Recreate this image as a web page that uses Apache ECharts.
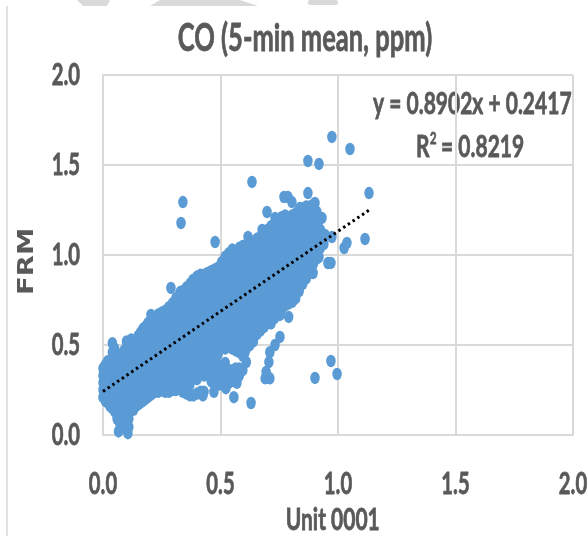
<!DOCTYPE html>
<html><head><meta charset="utf-8">
<style>html,body{margin:0;padding:0;background:#fff}#c{width:588px;height:536px}</style>
<script src="https://cdn.jsdelivr.net/npm/echarts@6/dist/echarts.min.js"></script>
</head><body><div id="c"></div>
<script>
const titleText = 'CO (5-min mean, ppm)';
const xName = 'Unit 0001';
const yName = 'FRM';
const axisMin = 0, axisMax = 2, axisStep = 0.5;
const eqLine1 = 'y = 0.8902x + 0.2417';
// trendline end points
const trendPoints = [[0, 0.2417], [1.135, 1.252]];
// isolated points
const outliers = [[0.634,1.406],[0.34,1.294],[0.332,1.178],[0.477,1.072],[0.698,1.239],[0.77,1.322],[0.787,1.322],[0.804,1.294],[0.617,1.1],[0.647,1.078],[0.677,1.139],[0.732,1.206],[0.974,1.656],[1.051,1.589],[0.872,1.522],[0.919,1.506],[0.872,1.344],[1.132,1.344],[1.115,1.089],[1.038,1.067],[1.026,1.039],[0.974,1.1],[0.932,1.206],[0.902,1.289],[0.919,0.989],[0.97,0.956],[0.97,0.411],[0.996,0.339],[0.902,0.317],[0.957,0.955],[0.894,0.9],[0.204,0.667],[0.289,0.817],[0.328,0.794],[0.383,0.861],[0.63,0.178],[0.557,0.21],[0.69,0.315],[0.71,0.315],[0.694,0.35],[0.706,0.405],[0.71,0.46],[0.732,0.5],[0.753,0.545],[0.715,0.62],[0.753,0.667],[0.79,0.656],[0.81,0.75],[0.804,0.833],[0.838,1.261],[0.945,1.111],[0.61,0.405],[0.604,0.46],[0.57,0.29],[0.523,0.26],[0.472,0.24],[0.425,0.22],[0.464,0.295],[0.066,0.02],[0.106,0.01],[0.11,0.044]];
// dense cloud, one row per x value: [x, y, y, ...]
const cloudRows = [
[0.00,.21,.25,.29,.33,.37],
[0.01,.19,.23,.27,.31,.35,.39],
[0.02,.18,.23,.28,.33,.38,.41],
[0.03,.16,.20,.25,.30,.35,.40],
[0.04,.15,.20,.26,.31,.36,.41,.46,.51],
[0.05,.13,.18,.23,.28,.33,.38,.43,.48],
[0.06,.09,.14,.20,.25,.30,.35,.40,.44],
[0.07,.07,.12,.17,.23,.28,.33,.38,.43],
[0.08,.05,.10,.15,.21,.26,.31,.36,.41,.45],
[0.09,.04,.08,.13,.18,.24,.29,.34,.39,.44,.47],
[0.10,.06,.12,.17,.22,.27,.33,.38,.43,.47,.52],
[0.11,.09,.15,.20,.25,.30,.35,.41,.46,.50],
[0.12,.14,.19,.24,.29,.34,.39,.44,.49,.53],
[0.13,.14,.18,.22,.27,.32,.37,.42,.47,.51],
[0.14,.16,.21,.27,.32,.37,.42,.47,.52],
[0.15,.17,.24,.30,.35,.40,.45,.50,.55],
[0.16,.18,.23,.28,.33,.39,.44,.49,.54,.57],
[0.17,.19,.26,.31,.36,.41,.46,.52,.57,.59],
[0.18,.20,.25,.31,.36,.41,.46,.51,.56,.60],
[0.19,.21,.28,.33,.39,.44,.49,.54,.59,.62],
[0.20,.22,.27,.32,.38,.43,.48,.53,.58,.63],
[0.21,.23,.30,.35,.41,.46,.51,.56,.61,.64],
[0.22,.24,.29,.34,.39,.45,.50,.55,.60,.65],
[0.235,.24,.27,.32,.37,.43,.48,.53,.58,.63,.67],
[0.25,.25,.30,.35,.41,.46,.51,.56,.62,.68],
[0.265,.24,.28,.33,.38,.43,.49,.54,.59,.64,.69],
[0.28,.24,.29,.34,.40,.45,.50,.55,.61,.66,.71],
[0.295,.25,.27,.32,.37,.43,.48,.53,.58,.64,.69,.73],
[0.31,.25,.30,.36,.41,.46,.51,.57,.62,.67,.72,.76],
[0.325,.26,.33,.38,.43,.49,.54,.59,.64,.69,.74,.78],
[0.34,.24,.29,.34,.40,.45,.50,.56,.61,.66,.71,.76,.80],
[0.355,.23,.32,.37,.42,.47,.53,.58,.63,.68,.73,.78,.82],
[0.37,.22,.28,.33,.38,.44,.49,.54,.59,.65,.70,.75,.80,.84],
[0.385,.22,.35,.40,.46,.51,.56,.61,.67,.72,.77,.82,.86],
[0.40,.23,.31,.37,.42,.47,.53,.58,.63,.68,.74,.79,.84,.88],
[0.415,.24,.34,.39,.44,.50,.55,.60,.66,.71,.76,.81,.86,.89],
[0.43,.24,.33,.38,.43,.49,.54,.59,.64,.70,.75,.80,.85,.89],
[0.445,.34,.40,.45,.50,.56,.61,.66,.71,.77,.82,.87,.90],
[0.46,.30,.36,.41,.46,.52,.57,.62,.67,.73,.78,.83,.88,.91],
[0.475,.28,.33,.38,.43,.48,.53,.59,.64,.69,.74,.80,.85,.92],
[0.49,.28,.34,.39,.45,.50,.55,.60,.66,.71,.76,.81,.87,.93],
[0.505,.28,.33,.38,.51,.57,.62,.67,.72,.78,.83,.88,.93,.96],
[0.52,.28,.35,.40,.48,.53,.58,.63,.69,.74,.79,.84,.90,.95,.99],
[0.535,.29,.36,.50,.56,.61,.66,.71,.77,.82,.87,.92,.97,1.01],
[0.55,.30,.36,.48,.53,.58,.63,.69,.74,.79,.84,.90,.95,1.00,1.03],
[0.565,.31,.37,.47,.55,.60,.66,.71,.76,.81,.87,.92,.97,1.02],
[0.58,.33,.37,.46,.52,.57,.62,.68,.73,.78,.83,.89,.94,.99,1.04],
[0.595,.36,.44,.50,.55,.60,.66,.71,.76,.81,.87,.92,.97,1.02,1.05],
[0.61,.48,.53,.58,.64,.69,.74,.79,.85,.90,.95,1.00,1.05],
[0.625,.50,.56,.61,.66,.71,.77,.82,.87,.92,.98,1.03,1.07],
[0.64,.52,.57,.62,.67,.73,.78,.83,.88,.94,.99,1.04,1.07],
[0.655,.56,.60,.65,.71,.76,.81,.86,.92,.97,1.02,1.07,1.09],
[0.67,.58,.63,.68,.74,.79,.84,.89,.95,1.00,1.05,1.10],
[0.685,.60,.66,.71,.76,.81,.87,.92,.97,1.02,1.07,1.12],
[0.70,.62,.67,.72,.78,.83,.88,.93,.99,1.04,1.09,1.14],
[0.715,.64,.69,.75,.80,.85,.90,.96,1.01,1.06,1.11,1.16],
[0.73,.65,.70,.76,.81,.86,.91,.97,1.02,1.07,1.12,1.17],
[0.745,.67,.73,.78,.83,.89,.94,.99,1.04,1.10,1.15,1.19],
[0.76,.70,.75,.80,.85,.91,.96,1.01,1.06,1.12,1.17,1.21],
[0.775,.72,.77,.82,.87,.93,.98,1.03,1.08,1.14,1.19,1.22],
[0.79,.73,.78,.84,.89,.94,.99,1.05,1.10,1.15,1.20],
[0.805,.74,.80,.85,.90,.96,1.01,1.06,1.11,1.17,1.22],
[0.82,.76,.81,.87,.92,.97,1.02,1.08,1.13,1.18,1.23],
[0.835,.80,.86,.91,.96,1.01,1.07,1.12,1.17,1.22,1.25],
[0.85,.84,.89,.95,1.00,1.05,1.10,1.16,1.21,1.26],
[0.865,.87,.92,.97,1.03,1.08,1.13,1.18,1.24,1.27],
[0.88,.90,.96,1.01,1.06,1.11,1.17,1.22,1.27],
[0.895,.95,1.00,1.05,1.10,1.15,1.20,1.25,1.28],
[0.91,.98,1.03,1.08,1.13,1.18,1.24],
[0.925,1.04,1.09,1.14],
[0.94,1.06,1.11]
];
const cloudPoints = cloudRows.flatMap(r => r.slice(1).map(y => [r[0], y]));
const blue = '#5b9bd5', grey = '#595959', gridGrey = '#d9d9d9';
const font = 'Lato,"Liberation Sans",sans-serif';
const lineStyle = {color: gridGrey, width: 2};
const heavy = {textBorderColor: grey, textBorderWidth: 0.7};
const axisBase = {
  type: 'value', min: axisMin, max: axisMax, interval: axisStep,
  nameLocation: 'middle',
  axisLine: {show: true, onZero: false, lineStyle},
  axisTick: {show: false},
  splitLine: {show: true, lineStyle},
  axisLabel: Object.assign({color: grey, fontFamily: font, fontWeight: 'bold', fontSize: 27, formatter: v => v.toFixed(1)}, heavy)
};
const marker = {symbol: 'circle', symbolSize: [9.5, 12.5], itemStyle: {color: blue, opacity: 1}};
const chart = echarts.init(document.getElementById('c'), null, {renderer: 'canvas'});
const gText = (x, y, text, size) => ({type: 'text', silent: true, x, y,
  style: {text, fill: grey, font: 'bold ' + size + 'px ' + font, stroke: grey, lineWidth: 0.7}});
chart.setOption({
  animation: false,
  backgroundColor: '#fff',
  title: {text: titleText, left: 300, top: 15, textAlign: 'center',
    textStyle: Object.assign({color: grey, fontFamily: font, fontWeight: 'bold', fontSize: 34}, heavy)},
  grid: {left: 103, right: 15, top: 75, bottom: 101, outerBoundsMode: 'none', containLabel: false},
  xAxis: Object.assign({}, axisBase, {name: xName, nameGap: 70,
    nameTextStyle: Object.assign({color: grey, fontFamily: font, fontWeight: 'bold', fontSize: 28, padding: [0, 14, 0, 0]}, heavy),
    axisLabel: Object.assign({}, axisBase.axisLabel, {margin: 35})}),
  yAxis: Object.assign({}, axisBase, {name: yName, nameGap: 65, nameMoveOverlap: false,
    nameTextStyle: {color: grey, fontFamily: '"DejaVu Sans",sans-serif', fontWeight: 'bold', fontSize: 22, padding: [0, 10, 0, 0]},
    axisLabel: Object.assign({}, axisBase.axisLabel, {margin: 23})}),
  graphic: [
    {type: 'line', silent: true, shape: {x1: 7, y1: 6, x2: 7, y2: 536}, style: {stroke: '#e2e2e2', lineWidth: 2}},
    {type: 'polygon', silent: true, shape: {points: [[77,0],[110,0],[107,6],[83,6]]}, style: {fill: gridGrey}},
    {type: 'polygon', silent: true, shape: {points: [[150,6],[160,0],[240,0],[258,6]]}, style: {fill: gridGrey}},
    {type: 'rect', silent: true, shape: {x: 308, y: 0, width: 30, height: 5, r: 2}, style: {fill: gridGrey}},
    gText(373, 89, eqLine1, 28),
    gText(416, 132, 'R', 28),
    gText(430, 130, '2', 15),
    gText(441, 132, '= 0.8219', 28)
  ],
  series: [
    Object.assign({type: 'scatter', name: 'cloud', data: cloudPoints, z: 2}, marker),
    Object.assign({type: 'scatter', name: 'outliers', data: outliers, z: 2}, marker),
    {type: 'line', name: 'trend', data: trendPoints, z: 3, showSymbol: false, symbol: 'none',
      lineStyle: {color: '#000', width: 3, type: [2.5, 3.2]}}
  ]
});
// the reference's text is a condensed face: narrow every label along its reading direction
chart.getZr().storage.traverse(el => {
  if (el.style && typeof el.style.text === 'string' && el.style.text) {
    const isY = el.style.text === yName;
    el.scaleX = isY ? 1.25 : 0.75;
    el.scaleY = isY ? 1 : 1.1;
    el.markRedraw();
  }
});
chart.getZr().refreshImmediately();
</script></body></html>
